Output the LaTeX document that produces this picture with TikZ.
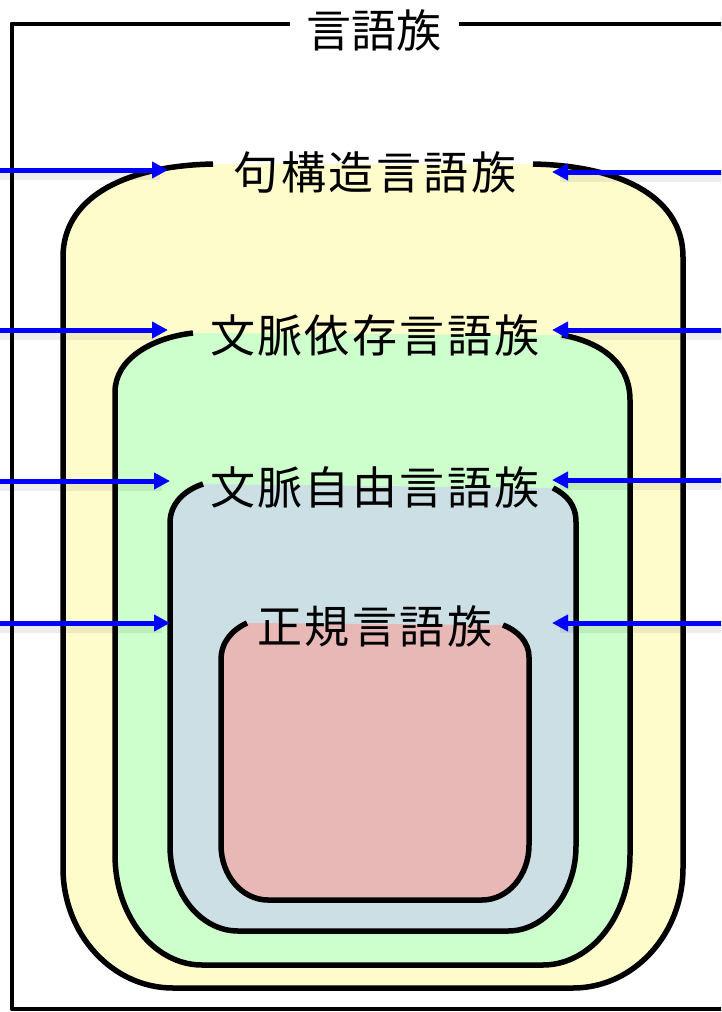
\documentclass[tikz,border=0pt]{standalone}
\usepackage{fontspec}
\newfontfamily\jpfont{Noto Sans CJK JP}
\usetikzlibrary{arrows.meta,calc}
\definecolor{famyellow}{RGB}{255,252,204}
\definecolor{famgreen}{RGB}{204,255,204}
\definecolor{famblue}{RGB}{203,223,229}
\definecolor{famred}{RGB}{232,184,183}
\definecolor{arrowblue}{RGB}{0,0,255}
\newcommand\ks{\kern2.5pt}
\begin{document}
\begin{tikzpicture}[x=1pt,y=-1pt,line join=round,
  famborder/.style={draw=black,line width=5.5pt},
  framebox/.style={draw=black,line width=4pt},
  famlabel/.style={font=\jpfont\fontsize{45}{45}\selectfont,inner sep=0pt,text height=38pt,text depth=4pt},
  arr/.style={draw=arrowblue,line width=5pt,-{Triangle[length=16pt,width=16pt]}},
  arrshadow/.style={draw=black,line width=10pt,opacity=0.07,shorten >=8pt}]
\useasboundingbox (0,0) rectangle (721,1012);
\clip (0,0) rectangle (721,1012);
% outer frame
\draw[framebox] (11.5,1009) -- (11.5,23.5) -- (760,23.5) -- (760,1009) -- cycle;
\node[famlabel,fill=white,inner xsep=17pt] (title) at (374,30) {言語族};
% yellow
\filldraw[famborder,fill=famyellow] (533,164) .. controls (626,166) and (683,200) .. (683,257)
  -- (683,868) .. controls (683,934.2) and (633.7,988) .. (573,988)
  -- (173,988) .. controls (112.3,988) and (63,934.2) .. (63,868)
  -- (63,257) .. controls (63,200) and (120,166) .. (213,164);
% green
\filldraw[famborder,fill=famgreen] (562,335) .. controls (600,342) and (630,362) .. (630,400)
  -- (630,855) .. controls (630,915.7) and (591,965) .. (543,965)
  -- (202,965) .. controls (154,965) and (115,915.7) .. (115,855)
  -- (115,392) .. controls (115,360) and (150,338) .. (193,333);
% blue
\filldraw[famborder,fill=famblue] (553,488) .. controls (567,495) and (576,505) .. (576,522)
  -- (576,846) .. controls (576,892.9) and (545.5,931) .. (508,931)
  -- (238,931) .. controls (200.5,931) and (170,892.9) .. (170,846)
  -- (170,523) .. controls (170,503) and (185,490) .. (203,484);
% red
\filldraw[famborder,fill=famred] (503,625) .. controls (518,631) and (529,642) .. (529,657)
  -- (529,845) .. controls (529,875.4) and (508,900) .. (482,900)
  -- (268,900) .. controls (242,900) and (221,875.4) .. (221,845)
  -- (221,660) .. controls (221,642) and (232,630) .. (247,623);
% labels
\node[famlabel] (psg) at (375,172) {句\ks 構\ks 造\ks 言\ks 語\ks 族};
\node[famlabel] (csg) at (375,335) {文\ks 脈\ks 依\ks 存\ks 言\ks 語\ks 族};
\node[famlabel] (cfg) at (375,487) {文\ks 脈\ks 自\ks 由\ks 言\ks 語\ks 族};
\node[famlabel] (reg) at (375,626) {正\ks 規\ks 言\ks 語\ks 族};
% arrow coordinates
\coordinate (aL1) at (-5,170); \coordinate (tL1) at (168,170);
\coordinate (aR1) at (726,172); \coordinate (tR1) at (552,172);
\coordinate (aL2) at (-5,330); \coordinate (tL2) at (168,330);
\coordinate (aR2) at (726,330); \coordinate (tR2) at (552,330);
\coordinate (aL3) at (-5,481); \coordinate (tL3) at (170,481);
\coordinate (aR3) at (726,480); \coordinate (tR3) at (552,480);
\coordinate (aL4) at (-5,623); \coordinate (tL4) at (170,623);
\coordinate (aR4) at (726,623); \coordinate (tR4) at (552,623);
\foreach \s/\t in {aL1/tL1,aR1/tR1,aL2/tL2,aR2/tR2,aL3/tL3,aR3/tR3,aL4/tL4,aR4/tR4}{
  \draw[arrshadow] ($(\s)+(0,5)$) -- ($(\t)+(0,5)$);
}
\foreach \s/\t in {aL1/tL1,aR1/tR1,aL2/tL2,aR2/tR2,aL3/tL3,aR3/tR3,aL4/tL4,aR4/tR4}{
  \draw[arr] (\s) -- (\t);
}
\end{tikzpicture}
\end{document}
